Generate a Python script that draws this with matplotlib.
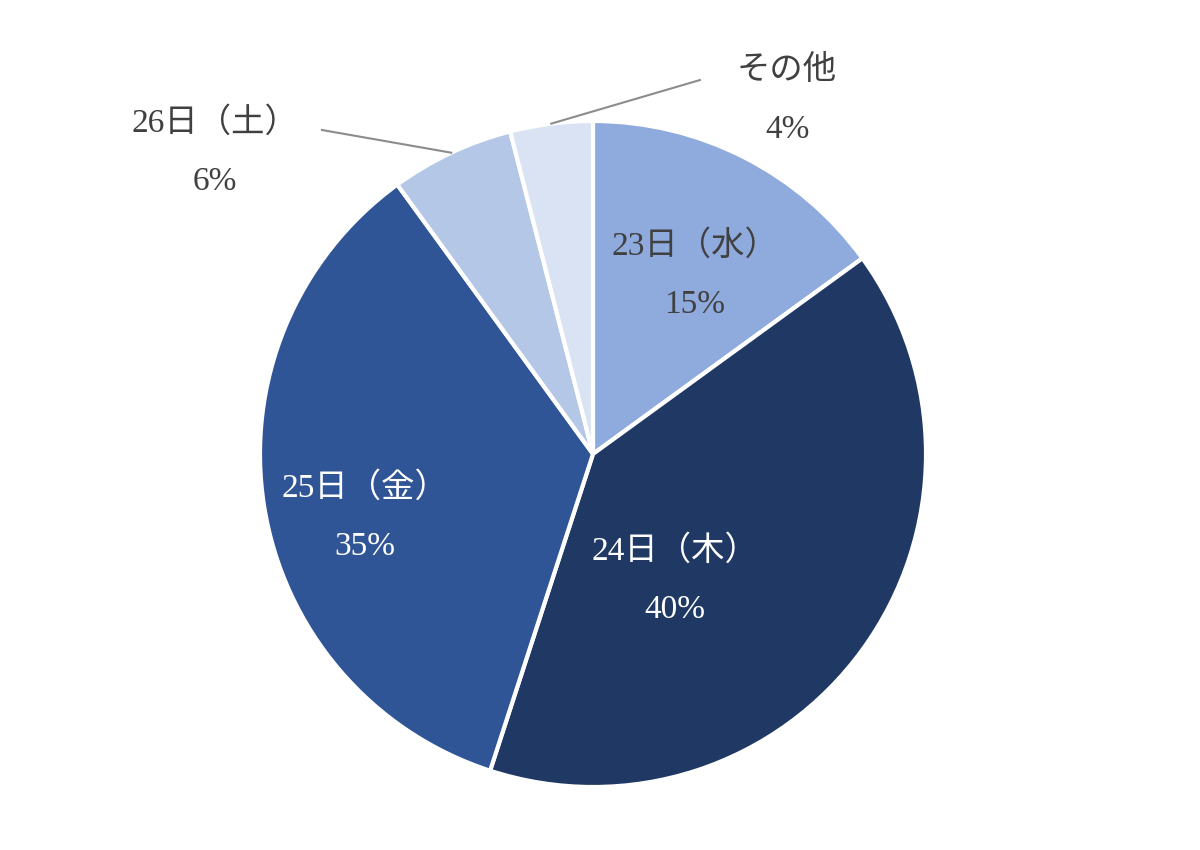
import numpy as np
import matplotlib.pyplot as plt

labels = ['23日（水）', '24日（木）', '25日（金）', '26日（土）', 'その他']
shares = [15, 40, 35, 6, 4]
colors = ['#8FAADC', '#1F3864', '#2F5597', '#B4C7E7', '#DAE3F3']
text_colors = ['#404040', 'white', 'white', '#404040', '#404040']
# label centre positions in pie units (radius = 1)
label_pos = [(0.306, 0.538), (0.246, -0.378), (-0.685, -0.19), (-1.135, 0.907), (0.583, 1.063)]
# leader line start (None = label sits inside its slice)
leader_start = [None, None, None, (-0.814, 0.973), (0.321, 1.123)]

fonts = ['Liberation Serif', 'Noto Sans CJK JP', 'DejaVu Sans']

fig = plt.figure(figsize=(12, 8.5), dpi=100)
cx, cy, r = 593, 454, 333
ax = fig.add_axes([(cx - r) / 1200, (850 - cy - r) / 850, 2 * r / 1200, 2 * r / 850])

wedges, _ = ax.pie(shares, colors=colors, startangle=90, counterclock=False,
                   wedgeprops=dict(edgecolor='white', linewidth=3))

for i, w in enumerate(wedges):
    x, y = label_pos[i]
    ax.text(x, y, labels[i] + '\n' + str(shares[i]) + '%', ha='center', va='center',
            fontsize=24, color=text_colors[i], family=fonts, linespacing=2.2)
    if leader_start[i] is not None:
        mid = np.deg2rad((w.theta1 + w.theta2) / 2)
        ax.plot([leader_start[i][0], np.cos(mid)], [leader_start[i][1], np.sin(mid)],
                color='#8c8c8c', lw=1.5, clip_on=False)

ax.set_xlim(-1, 1)
ax.set_ylim(-1, 1)
ax.set_aspect('equal')
ax.axis('off')

fig.savefig('out.png', dpi=100, facecolor='white')
